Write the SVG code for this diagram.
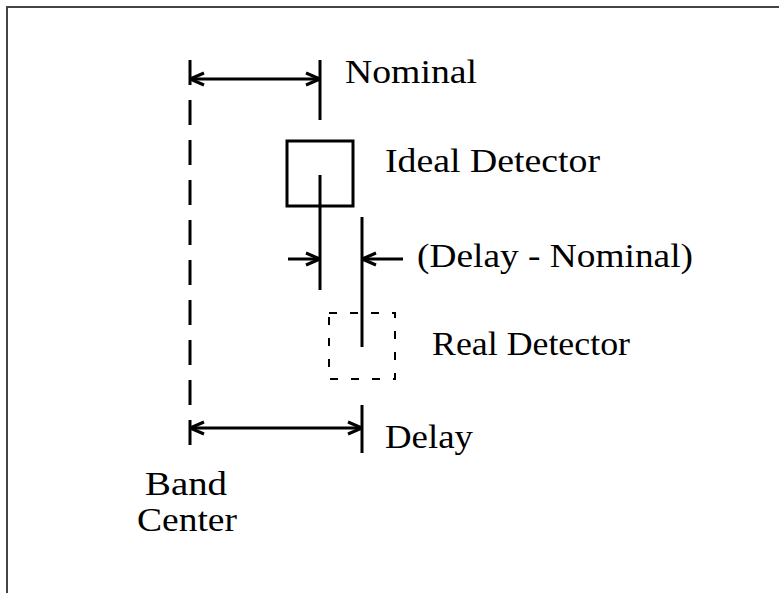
<svg xmlns="http://www.w3.org/2000/svg" width="779" height="593" viewBox="0 0 779 593">
<defs>
<style>
.ln{stroke:#000;stroke-width:3;fill:none}
.tx{font-family:"Liberation Serif","Times New Roman",serif;font-size:33px;fill:#000}
</style>
<marker id="arr" viewBox="0 -8 16 16" refX="15" refY="0" markerWidth="16" markerHeight="16" markerUnits="userSpaceOnUse" orient="auto-start-reverse">
<path d="M1,-6 L15,0 L1,6" fill="none" stroke="#000" stroke-width="3"/>
</marker>
</defs>
<rect width="779" height="593" fill="#fff"/>
<g id="border">
<path d="M7,593 V7 H779" fill="none" stroke="#444" stroke-width="2"/>
</g>
<g id="band-center">
<line class="ln" x1="190" y1="60" x2="190" y2="446" stroke-dasharray="25 15"/>
<text class="tx" x="145" y="495" textLength="82" lengthAdjust="spacingAndGlyphs">Band</text>
<text class="tx" x="137" y="531" textLength="100" lengthAdjust="spacingAndGlyphs">Center</text>
</g>
<g id="ideal-detector">
<rect class="ln" x="287" y="141" width="66" height="65"/>
<text class="tx" x="385" y="172" textLength="215" lengthAdjust="spacingAndGlyphs">Ideal Detector</text>
</g>
<g id="real-detector">
<rect x="329" y="313" width="66" height="66" fill="none" stroke="#000" stroke-width="2" stroke-dasharray="8 13"/>
<text class="tx" x="432" y="355" textLength="198" lengthAdjust="spacingAndGlyphs">Real Detector</text>
</g>
<g id="connectors">
<line class="ln" x1="320" y1="60" x2="320" y2="120"/>
<line class="ln" x1="320" y1="175" x2="320" y2="290"/>
<line class="ln" x1="362" y1="217" x2="362" y2="347"/>
<line class="ln" x1="362" y1="405" x2="362" y2="453"/>
<line class="ln" x1="190" y1="79" x2="320" y2="79" marker-start="url(#arr)" marker-end="url(#arr)"/>
<line class="ln" x1="288" y1="259" x2="320" y2="259" marker-end="url(#arr)"/>
<line class="ln" x1="403" y1="259" x2="362" y2="259" marker-end="url(#arr)"/>
<line class="ln" x1="190" y1="428" x2="362" y2="428" marker-start="url(#arr)" marker-end="url(#arr)"/>
</g>
<g id="labels">
<text class="tx" x="345" y="83" textLength="132" lengthAdjust="spacingAndGlyphs">Nominal</text>
<text class="tx" x="417" y="267" textLength="276" lengthAdjust="spacingAndGlyphs">(Delay - Nominal)</text>
<text class="tx" x="385" y="448" textLength="88" lengthAdjust="spacingAndGlyphs">Delay</text>
</g>
</svg>
